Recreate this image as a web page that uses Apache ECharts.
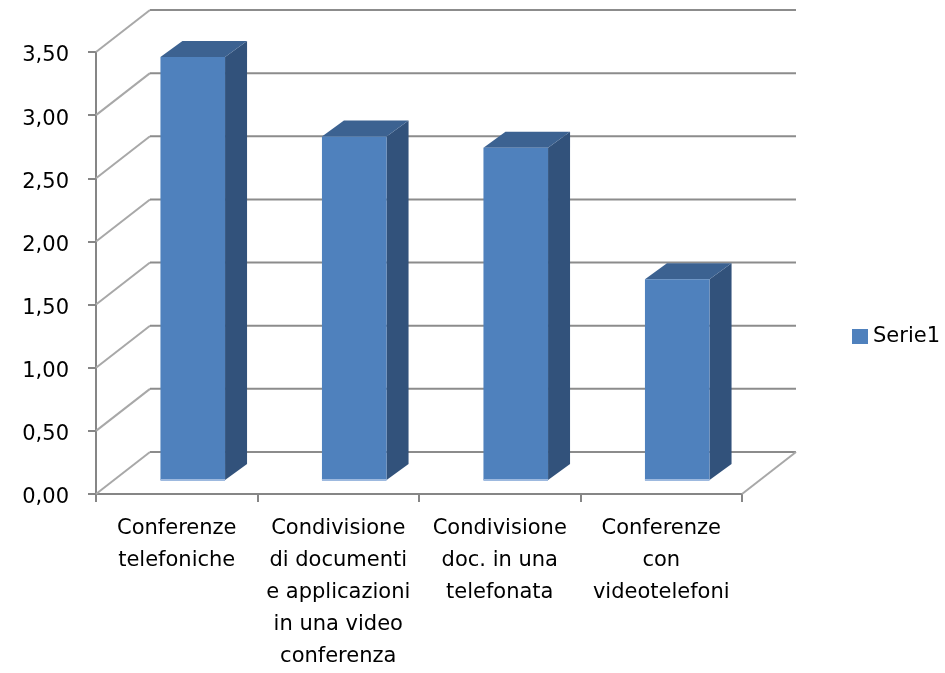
<!DOCTYPE html>
<html>
<head>
<meta charset="utf-8">
<script src="https://cdn.jsdelivr.net/npm/echarts@6/dist/echarts.min.js"></script>
<style>
    html, body { margin: 0; padding: 0; background: #fff; }
    #chart { width: 945px; height: 673px; }
</style>
</head>
<body>
<div id="chart"></div>
<script>
// dati
var categorie = [
    "Conferenze\ntelefoniche",
    "Condivisione\ndi documenti\ne applicazioni\nin una video\nconferenza",
    "Condivisione\ndoc. in una\ntelefonata",
    "Conferenze\ncon\nvideotelefoni"
];
var valori = [3.35, 2.72, 2.63, 1.59];
var tickY = [0, 0.5, 1, 1.5, 2, 2.5, 3, 3.5];

// profondita' finta 3D (pixel)
var muroDx = 54, muroDy = -42;
var barraDx = 16, barraDy = -14;
var profDx = 22, profDy = -16;

var myChart = echarts.init(document.getElementById('chart'));

var font = 'DejaVu Sans';

var option = {
    animation: false,
    textStyle: { fontFamily: font },
    grid: { left: 96, right: 203, top: 52, bottom: 178 },
    legend: {
        data: ['Serie1'],
        orient: 'vertical',
        left: 852,
        top: 326,
        padding: 0,
        icon: 'rect',
        itemWidth: 16,
        itemHeight: 15,
        itemGap: 6,
        textStyle: { fontSize: 21, color: '#000', fontFamily: font }
    },
    xAxis: {
        type: 'category',
        data: categorie,
        boundaryGap: true,
        axisLine: { lineStyle: { color: '#868686', width: 2 } },
        axisTick: { show: true, length: 8, alignWithLabel: false, lineStyle: { color: '#868686', width: 2 } },
        axisLabel: {
            interval: 0,
            margin: 19,
            fontSize: 21,
            lineHeight: 32,
            color: '#000',
            fontFamily: font
        }
    },
    yAxis: {
        type: 'value',
        min: 0,
        max: 3.5,
        interval: 0.5,
        axisLine: { show: true, lineStyle: { color: '#868686', width: 2 } },
        axisTick: { show: true, length: 8, lineStyle: { color: '#868686', width: 2 } },
        splitLine: { show: false },
        axisLabel: {
            margin: 27,
            fontSize: 21,
            color: '#000',
            fontFamily: font,
            formatter: function (v) { return '{v|' + v.toFixed(2).replace('.', ',') + '}'; },
            rich: {
                v: { fontSize: 21, fontFamily: font, color: '#000', padding: [8, 0, 0, 0] }
            }
        }
    },
    series: [
        {
            // pareti: griglia posteriore e diagonali laterali
            name: 'pareti',
            type: 'custom',
            z: 1,
            silent: true,
            encode: { x: 0, y: 1 },
            data: tickY.map(function (v) { return [0, v]; }),
            renderItem: function (params, api) {
                var cs = params.coordSys;
                var p = api.coord([0, api.value(1)]);
                var y = p[1];
                var xl = cs.x, xr = cs.x + cs.width;
                var figli = [
                    {
                        type: 'line',
                        shape: { x1: xl, y1: y, x2: xl + muroDx, y2: y + muroDy },
                        style: { stroke: '#a8a8a8', lineWidth: 2 }
                    },
                    {
                        type: 'line',
                        shape: { x1: xl + muroDx, y1: y + muroDy, x2: xr + muroDx, y2: y + muroDy },
                        style: { stroke: '#8c8c8c', lineWidth: 2 }
                    }
                ];
                if (api.value(1) === 0) {
                    figli.push({
                        type: 'line',
                        shape: { x1: xr, y1: y, x2: xr + muroDx, y2: y + muroDy },
                        style: { stroke: '#a8a8a8', lineWidth: 2 }
                    });
                }
                return { type: 'group', children: figli };
            }
        },
        {
            name: 'Serie1',
            type: 'custom',
            z: 3,
            itemStyle: { color: '#4F81BD' },
            encode: { x: 0, y: 1 },
            data: valori.map(function (v, i) { return [i, v]; }),
            renderItem: function (params, api) {
                var i = api.value(0);
                var base = api.coord([i, 0]);
                var cima = api.coord([i, api.value(1)]);
                var w = api.size([1, 0])[0] * 0.4;
                var x0 = base[0] - w / 2 + barraDx;
                var x1 = x0 + w;
                var yb = base[1] + barraDy;
                var yt = cima[1] + barraDy;
                return {
                    type: 'group',
                    children: [
                        {
                            type: 'polygon',
                            shape: { points: [[x1, yt], [x1 + profDx, yt + profDy], [x1 + profDx, yb + profDy], [x1, yb]] },
                            style: { fill: '#32527B' }
                        },
                        {
                            type: 'polygon',
                            shape: { points: [[x0, yt], [x0 + profDx, yt + profDy], [x1 + profDx, yt + profDy], [x1, yt]] },
                            style: { fill: '#3C6291' }
                        },
                        {
                            type: 'rect',
                            shape: { x: x0, y: yt, width: w, height: yb - yt },
                            style: { fill: '#4F81BD' }
                        },
                        {
                            type: 'line',
                            shape: { x1: x0, y1: yb, x2: x1, y2: yb },
                            style: { stroke: '#9DB9DF', lineWidth: 2 }
                        }
                    ]
                };
            }
        }
    ]
};

myChart.setOption(option);
</script>
</body>
</html>
